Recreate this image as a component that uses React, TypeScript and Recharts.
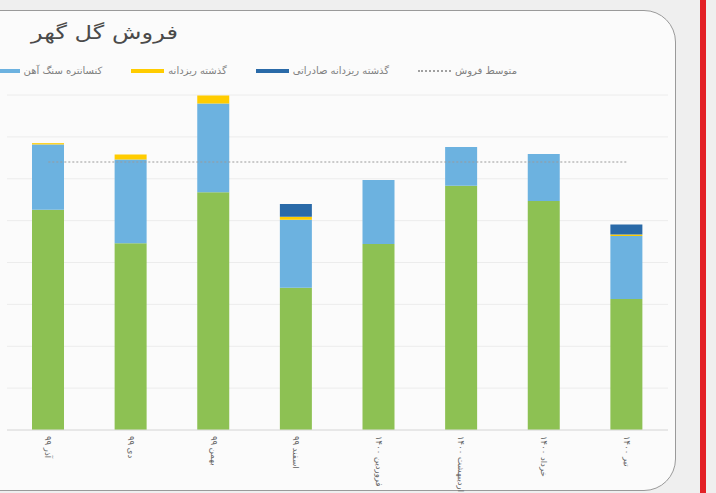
import { ComposedChart, Bar, Line, XAxis, YAxis, CartesianGrid } from "recharts";

const months = ["آذر ۹۹", "دی ۹۹", "بهمن ۹۹", "اسفند ۹۹", "فروردین ۱۴۰۰", "اردیبهشت ۱۴۰۰", "خرداد ۱۴۰۰", "تیر ۱۴۰۰"];
const baseSales = [2630, 2230, 2840, 1700, 2220, 2915, 2735, 1565];
const concentrate = [780, 1000, 1060, 810, 765, 465, 560, 750];
const fines = [15, 60, 95, 35, 0, 0, 0, 20];
const finesExport = [0, 0, 0, 155, 0, 0, 0, 120];
const avgSales = [3200, 3200, 3200, 3200, 3200, 3200, 3200, 3200];
const yTicks = [0, 500, 1000, 1500, 2000, 2500, 3000, 3500, 4000];

const legendItems = [
  { name: "متوسط فروش", color: "#a0a0a0", dotted: true },
  { name: "گذشته ریزدانه صادراتی", color: "#2a6aa8", dotted: false },
  { name: "گذشته ریزدانه", color: "#ffcc00", dotted: false },
  { name: "کنسانتره سنگ آهن", color: "#6cb2e0", dotted: false },
];

const chartData = months.map((m, i) => ({
  month: m,
  base: baseSales[i],
  conc: concentrate[i],
  fines: fines[i],
  finesExp: finesExport[i],
  avg: avgSales[i],
}));

const MonthTick = ({ x, y, payload }: any) => (
  <text
    transform={`translate(${x},${y - 2}) rotate(90)`}
    textAnchor="start"
    dy="0.35em"
    fontSize={8.5}
    fill="#666"
    fontFamily="DejaVu Sans"
  >
    {payload.value}
  </text>
);

export default function App() {
  return (
    <div style={{ position: "fixed", left: 0, top: 0, width: 716, height: 493, overflow: "hidden", background: "#efefef", fontFamily: "DejaVu Sans" }}>
      <div style={{ position: "absolute", left: 700, top: 0, width: 6, height: 493, background: "#e32026" }} />
      <div
        style={{
          position: "absolute",
          left: -40,
          top: 10,
          width: 716,
          height: 481,
          boxSizing: "border-box",
          border: "1px solid #9a9a9a",
          borderRadius: 32,
          background: "#fbfbfb",
        }}
      />
      <div
        style={{
          position: "absolute",
          left: 31,
          top: 21,
          fontSize: 19,
          color: "#4a4a4a",
          direction: "rtl",
          whiteSpace: "nowrap",
          transform: "scaleX(1.27)",
          transformOrigin: "left center",
        }}
      >
        فروش گل گهر
      </div>

      <div style={{ position: "absolute", right: 716 - 517, top: 65, display: "flex", direction: "rtl", gap: 29, whiteSpace: "nowrap" }}>
        {legendItems.map(it => (
          <div key={it.name} style={{ display: "flex", alignItems: "center", gap: 4, fontSize: 10, color: "#808080" }}>
            <span>{it.name}</span>
            <span
              style={{
                width: 33,
                height: it.dotted ? 0 : 4,
                background: it.dotted ? "none" : it.color,
                borderTop: it.dotted ? `2px dotted ${it.color}` : "none",
              }}
            />
          </div>
        ))}
      </div>

      <div style={{ position: "absolute", left: 0, top: 0 }}>
        <ComposedChart
          width={716}
          height={493}
          data={chartData}
          margin={{ top: 95, right: 48, left: 7, bottom: 8 }}
          barSize={32}
        >
          <CartesianGrid vertical={false} stroke="#ececec" />
          <XAxis dataKey="month" height={55} tick={<MonthTick />} tickLine={false} axisLine={{ stroke: "#dcdcdc" }} interval={0} />
          <YAxis hide domain={[0, 4000]} ticks={yTicks} />
          <Line dataKey="avg" stroke="#9a9a9a" strokeWidth={1.2} strokeDasharray="2 2" dot={false} isAnimationActive={false} />
          <Bar dataKey="base" stackId="s" fill="#8dc153" isAnimationActive={false} />
          <Bar dataKey="conc" stackId="s" fill="#6cb2e0" isAnimationActive={false} />
          <Bar dataKey="fines" stackId="s" fill="#ffcc00" isAnimationActive={false} />
          <Bar dataKey="finesExp" stackId="s" fill="#2a6aa8" isAnimationActive={false} />
        </ComposedChart>
      </div>
    </div>
  );
}
